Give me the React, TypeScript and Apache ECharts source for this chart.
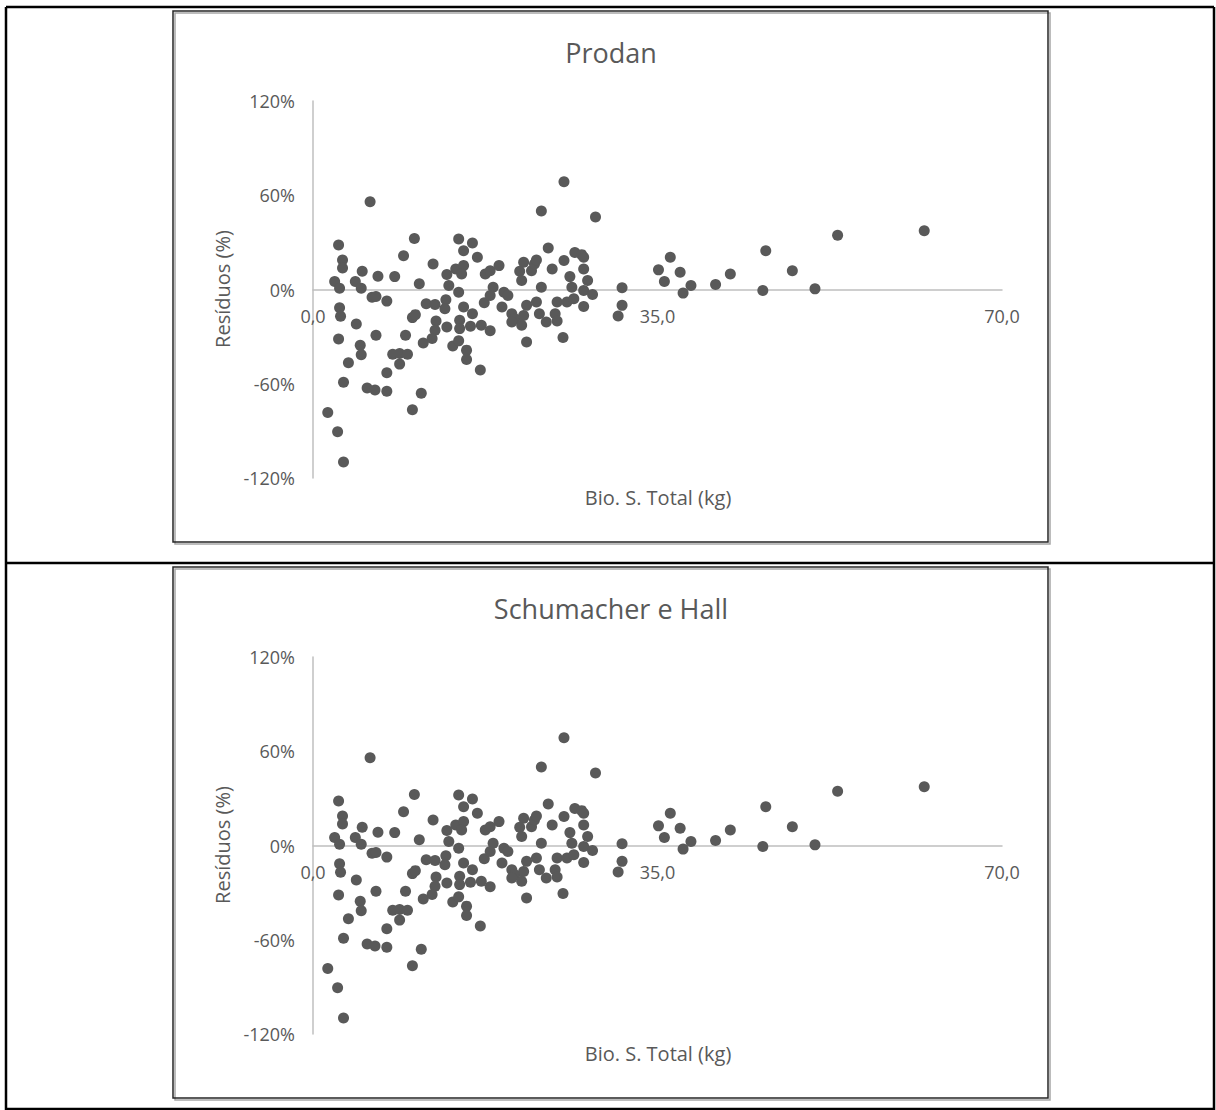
import React, { useEffect, useRef } from "react";
import * as echarts from "echarts";

// Biomassa seca total (kg) of each tree
const biomassKg = [
  5.8, 2.6, 3.0, 3.0, 2.2, 2.7, 5.0, 4.3, 4.9, 6.6, 8.3, 6.0, 6.4, 7.5, 9.2, 10.3, 10.8, 12.2, 14.8, 16.2,
  15.3, 16.7, 13.6, 14.5, 15.3, 15.1, 13.8, 14.8, 17.5, 2.7, 2.8, 4.4, 2.6, 6.4, 4.8, 4.9, 3.6, 3.1, 5.5, 6.3,
  7.5, 7.5, 8.1, 8.8, 9.6, 8.8, 9.4, 10.1, 10.4, 11.5, 12.4, 13.5, 13.4, 12.5, 12.4, 11.2, 12.1, 10.1, 11.0, 1.5,
  2.5, 3.1, 14.2, 14.8, 15.6, 15.6, 17.0, 15.3, 16.2, 14.9, 14.9, 16.0, 17.1, 13.6, 17.4, 18.0,
  25.5, 23.2, 28.7, 18.0, 18.9, 18.3, 18.0, 19.4, 19.8, 19.2, 20.2, 20.5, 20.2, 21.4, 21.2, 21.7, 22.7, 21.4,
  21.0, 21.2, 22.2, 22.5, 22.7, 23.9, 24.3, 23.2, 21.7, 25.4, 23.0, 23.7, 24.6, 24.8, 24.8, 25.8, 26.5, 25.5,
  26.6, 27.3, 27.5, 27.5, 26.1, 27.9, 26.3, 27.5, 28.4, 27.5, 31.4, 31.4, 31.0,
  35.1, 36.3, 35.7, 37.3, 37.6, 38.4, 40.9, 42.4, 45.7, 46.0, 48.7, 51.0, 53.3, 62.1,
];

// Residuals (%) – Prodan
const prodanResiduals = [
  55.9, 28.3, 18.8, 13.7, 5.1, 0.8, 11.6, 5.1, 0.8, 8.4, 8.2, -4.9, -4.4, -7.4, 21.5, 32.5, 3.6, 16.3, 32.1, 29.6,
  24.7, 20.5, 9.5, 13.1, 15.2, 9.9, 2.5, -1.7, 9.9, -11.6, -17.1, -22.0, -31.5, -29.1, -35.5, -41.6, -46.7, -59.1, -62.7, -64.0,
  -64.8, -53.0, -41.2, -40.7, -41.2, -47.5, -29.1, -17.9, -16.0, -9.1, -9.5, -6.5, -12.2, -20.0, -26.0, -34.0, -31.2, -76.6, -66.0, -78.3,
  -90.6, -109.8, -36.0, -32.7, -38.6, -44.5, -51.3, -11.2, -15.4, -19.6, -24.9, -23.4, -22.8, -23.9, -8.5, -26.2,
  68.6, 50.0, 46.2, 12.0, 15.2, 1.5, -3.8, -1.7, -3.8, -11.2, -15.4, -18.6, -20.7, -16.5, -22.8, -10.1, -8.0, 17.3,
  11.6, 5.7, 12.0, 16.3, 18.8, 26.4, 13.1, 1.5, -33.4, -30.6, -15.4, -20.7, -15.4, -20.0, -8.0, -8.0, -5.9, 18.4,
  23.6, 22.2, 20.5, 13.1, 8.2, 5.7, 1.5, -0.6, -3.2, -10.8, 1.1, -10.1, -16.9,
  12.5, 20.5, 5.1, 11.0, -2.3, 2.5, 3.2, 9.9, -0.6, 24.7, 12.0, 0.4, 34.6, 37.4,
];

// Residuals (%) – Schumacher e Hall
const schumacherResiduals = [
  55.9, 28.3, 18.8, 13.7, 5.1, 0.8, 11.6, 5.1, 0.8, 8.4, 8.2, -4.9, -4.4, -7.4, 21.5, 32.5, 3.6, 16.3, 32.1, 29.6,
  24.7, 20.5, 9.5, 13.1, 15.2, 9.9, 2.5, -1.7, 9.9, -11.6, -17.1, -22.0, -31.5, -29.1, -35.5, -41.6, -46.7, -59.1, -62.7, -64.0,
  -64.8, -53.0, -41.2, -40.7, -41.2, -47.5, -29.1, -17.9, -16.0, -9.1, -9.5, -6.5, -12.2, -20.0, -26.0, -34.0, -31.2, -76.6, -66.0, -78.3,
  -90.6, -109.8, -36.0, -32.7, -38.6, -44.5, -51.3, -11.2, -15.4, -19.6, -24.9, -23.4, -22.8, -23.9, -8.5, -26.2,
  68.6, 50.0, 46.2, 12.0, 15.2, 1.5, -3.8, -1.7, -3.8, -11.2, -15.4, -18.6, -20.7, -16.5, -22.8, -10.1, -8.0, 17.3,
  11.6, 5.7, 12.0, 16.3, 18.8, 26.4, 13.1, 1.5, -33.4, -30.6, -15.4, -20.7, -15.4, -20.0, -8.0, -8.0, -5.9, 18.4,
  23.6, 22.2, 20.5, 13.1, 8.2, 5.7, 1.5, -0.6, -3.2, -10.8, 1.1, -10.1, -16.9,
  12.5, 20.5, 5.1, 11.0, -2.3, 2.5, 3.2, 9.9, -0.6, 24.7, 12.0, 0.4, 34.6, 37.4,
];

const chartTitles = ["Prodan", "Schumacher e Hall"];
const xTicks = [0, 35, 70];
const yTicks = [-120, -60, 0, 60, 120];
const xAxisName = "Bio. S. Total (kg)";
const yAxisName = "Resíduos (%)";

const FONT = "'Open Sans', 'Noto Sans', sans-serif";
const GREY = "#595959";
const AXIS = "#bfbfbf";

export default function App() {
  const ref = useRef<HTMLDivElement>(null);

  useEffect(() => {
    if (!ref.current) return;
    const chart = echarts.init(ref.current, null, { renderer: "svg" });
    const panelOffset = 556;
    const panels = [0, 1];
    const gridHeight = 377;

    const grids = panels.map((i) => ({
      left: 313,
      top: 101 + i * panelOffset,
      width: 689,
      height: gridHeight,
    }));

    const yMin = yTicks[0];
    const yMax = yTicks[yTicks.length - 1];
    // distance from the grid bottom to the 0% line, so the x axis crosses at zero
    const zeroOffset = -((0 - yMin) / (yMax - yMin)) * gridHeight;

    const xAxes = panels.map((i) => ({
      type: "value",
      gridIndex: i,
      position: "bottom",
      offset: zeroOffset,
      min: xTicks[0],
      max: xTicks[xTicks.length - 1],
      interval: xTicks[1] - xTicks[0],
      axisLine: { show: true, onZero: false, lineStyle: { color: AXIS, width: 1.5 } },
      axisTick: { show: false },
      splitLine: { show: false },
      axisLabel: {
        color: GREY,
        fontSize: 18,
        fontFamily: FONT,
        margin: 17,
        formatter: (v: number) => v.toFixed(1).replace(".", ","),
      },
    }));

    const yAxes = panels.map((i) => ({
      type: "value",
      gridIndex: i,
      min: yMin,
      max: yMax,
      interval: yTicks[1] - yTicks[0],
      axisLine: { show: true, onZero: false, lineStyle: { color: AXIS, width: 1.5 } },
      axisTick: { show: false },
      splitLine: { show: false },
      axisLabel: {
        color: GREY,
        fontSize: 18,
        fontFamily: FONT,
        margin: 18,
        formatter: (v: number) => `${v}%`,
      },
    }));

    const residualSets = [prodanResiduals, schumacherResiduals];
    const series = panels.map((i) => ({
      type: "scatter",
      name: chartTitles[i],
      xAxisIndex: i,
      yAxisIndex: i,
      symbol: "circle",
      symbolSize: 11,
      itemStyle: { color: GREY, opacity: 1 },
      data: biomassKg.map((x, k) => [x, residualSets[i][k]]),
    }));

    const graphic: any[] = [];
    // table borders
    const tableLines = [
      [6, 7, 1214, 7],
      [6, 7, 6, 1110],
      [1214, 7, 1214, 1110],
      [6, 563, 1214, 563],
      [6, 1109, 1214, 1109],
    ];
    tableLines.forEach(([x1, y1, x2, y2]) =>
      graphic.push({
        type: "line",
        shape: { x1, y1, x2, y2 },
        style: { stroke: "#000", lineWidth: 2.5 },
        silent: true,
      })
    );
    panels.forEach((i) => {
      const oy = i * panelOffset;
      // chart box shadow + border
      graphic.push({
        type: "rect",
        shape: { x: 175, y: 13 + oy, width: 875, height: 531 },
        style: { fill: "none", stroke: "#a6a6a6", lineWidth: 1.5 },
        silent: true,
      });
      graphic.push({
        type: "rect",
        shape: { x: 173, y: 11 + oy, width: 875, height: 531 },
        style: { fill: "none", stroke: "#262626", lineWidth: 1.5 },
        silent: true,
      });
      graphic.push({
        type: "text",
        x: 611,
        y: 52 + oy,
        style: {
          text: chartTitles[i],
          fill: GREY,
          font: `27px ${FONT}`,
          align: "center",
          verticalAlign: "middle",
        },
      });
      graphic.push({
        type: "text",
        x: 658,
        y: 497 + oy,
        style: {
          text: xAxisName,
          fill: GREY,
          font: `20px ${FONT}`,
          align: "center",
          verticalAlign: "middle",
        },
      });
      graphic.push({
        type: "text",
        x: 222,
        y: 289 + oy,
        rotation: Math.PI / 2,
        style: {
          text: yAxisName,
          fill: GREY,
          font: `20px ${FONT}`,
          align: "center",
          verticalAlign: "middle",
        },
      });
    });

    chart.setOption({
      animation: false,
      backgroundColor: "#ffffff",
      textStyle: { fontFamily: FONT },
      grid: grids,
      xAxis: xAxes,
      yAxis: yAxes,
      series,
      graphic,
    });

    return () => chart.dispose();
  }, []);

  return (
    <div
      ref={ref}
      style={{ position: "absolute", left: 0, top: 0, width: 1216, height: 1110 }}
    />
  );
}
